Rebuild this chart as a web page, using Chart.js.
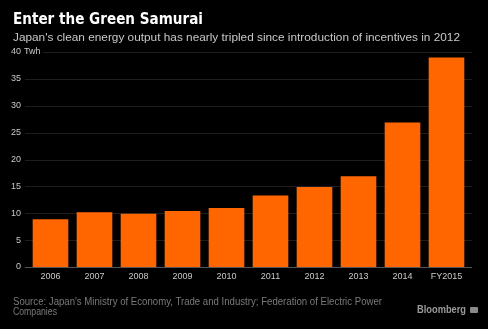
<!DOCTYPE html>
<html>
<head>
<meta charset="utf-8">
<script src="https://cdn.jsdelivr.net/npm/chart.js@4/dist/chart.umd.min.js"></script>
<style>
  html,body{margin:0;padding:0;background:#000;}
  #wrap{position:relative;width:488px;height:329px;overflow:hidden;background:#000;}
  canvas{position:absolute;left:0;top:0;}
  .t{position:absolute;white-space:nowrap;transform-origin:0 0;}
  #title{left:13px;top:10px;font:bold 15px "DejaVu Sans",sans-serif;color:#fff;}
  #sub{left:13px;top:31px;font:11px "Liberation Sans",sans-serif;color:#c8c8c8;}
  #src1{left:13px;top:296px;font:10px "Liberation Sans",sans-serif;color:#7a7a7a;}
  #src2{left:13px;top:306px;font:10px "Liberation Sans",sans-serif;color:#7a7a7a;}
  #logo{left:417px;top:304px;font:bold 10px "Liberation Sans",sans-serif;color:#9a9a9a;}
  #icon{position:absolute;left:470px;top:307px;width:8px;height:6px;background:#8a8a8a;border-radius:1px;}
</style>
</head>
<body>
<div id="wrap">
  <canvas id="c" width="488" height="329"></canvas>
  <div class="t" id="title" data-w="190">Enter the Green Samurai</div>
  <div class="t" id="sub" data-w="447">Japan's clean energy output has nearly tripled since introduction of incentives in 2012</div>
  <div class="t" id="src1" data-w="369">Source: Japan's Ministry of Economy, Trade and Industry; Federation of Electric Power</div>
  <div class="t" id="src2" data-w="44">Companies</div>
  <div class="t" id="logo" data-w="49">Bloomberg</div>
  <div id="icon"></div>
</div>
<script>
const categories = ["2006","2007","2008","2009","2010","2011","2012","2013","2014","FY2015"];
const outputTWh = [8.9, 10.2, 9.9, 10.4, 11.0, 13.3, 14.9, 16.9, 26.9, 39.0];
const yTicks = [0, 5, 10, 15, 20, 25, 30, 35, 40];
const unitLabel = "Twh";

// fit text widths
document.querySelectorAll('.t').forEach(el => {
  const target = parseFloat(el.dataset.w);
  const w = el.getBoundingClientRect().width;
  if (w > 0) el.style.transform = 'scaleX(' + (target / w) + ')';
});

const gridPlugin = {
  id: 'customGrid',
  beforeDatasetsDraw(chart) {
    const ctx = chart.ctx;
    const y = chart.scales.y;
    ctx.save();
    ctx.lineWidth = 1;
    yTicks.forEach(v => {
      const py = Math.round(y.getPixelForValue(v)) + 0.5;
      if (v === 0) return;
      ctx.strokeStyle = '#1e1e1e';
      ctx.beginPath();
      ctx.moveTo(v === yTicks[yTicks.length - 1] ? 43 : 25, py);
      ctx.lineTo(472, py);
      ctx.stroke();
    });
    ctx.restore();
  },
  afterDatasetsDraw(chart) {
    const ctx = chart.ctx;
    const y = chart.scales.y;
    ctx.save();
    const py = Math.round(y.getPixelForValue(0)) + 0.5;
    ctx.strokeStyle = '#555';
    ctx.beginPath();
    ctx.moveTo(25, py);
    ctx.lineTo(472, py);
    ctx.stroke();
    // unit label after top tick
    ctx.fillStyle = '#c8c8c8';
    ctx.font = '9px "Liberation Sans", sans-serif';
    ctx.textBaseline = 'middle';
    ctx.textAlign = 'left';
    ctx.fillText(unitLabel, 24, y.getPixelForValue(yTicks[yTicks.length - 1]));
    ctx.restore();
  }
};

new Chart(document.getElementById('c'), {
  type: 'bar',
  data: {
    labels: categories,
    datasets: [{
      data: outputTWh,
      backgroundColor: '#ff6600',
      borderWidth: 0,
      barPercentage: 0.81,
      categoryPercentage: 1.0
    }]
  },
  options: {
    responsive: false,
    animation: false,
    devicePixelRatio: 1,
    layout: { padding: { left: 0, right: 19.5, top: 52, bottom: 42 } },
    plugins: { legend: { display: false }, tooltip: { enabled: false } },
    scales: {
      x: {
        offset: true,
        grid: { display: false, drawTicks: false },
        border: { display: false },
        ticks: { color: '#c8c8c8', font: { family: 'Liberation Sans', size: 9 }, padding: 4, maxRotation: 0 },
        afterFit(s) { s.height = 20; }
      },
      y: {
        min: 0, max: 40,
        afterBuildTicks(s) { s.ticks = yTicks.map(v => ({ value: v })); },
        grid: { display: false, drawTicks: false },
        border: { display: false },
        ticks: { color: '#c8c8c8', font: { family: 'Liberation Sans', size: 9 }, padding: 7.5 },
        afterFit(s) { s.width = 28.5; }
      }
    }
  },
  plugins: [gridPlugin]
});
</script>
</body>
</html>
